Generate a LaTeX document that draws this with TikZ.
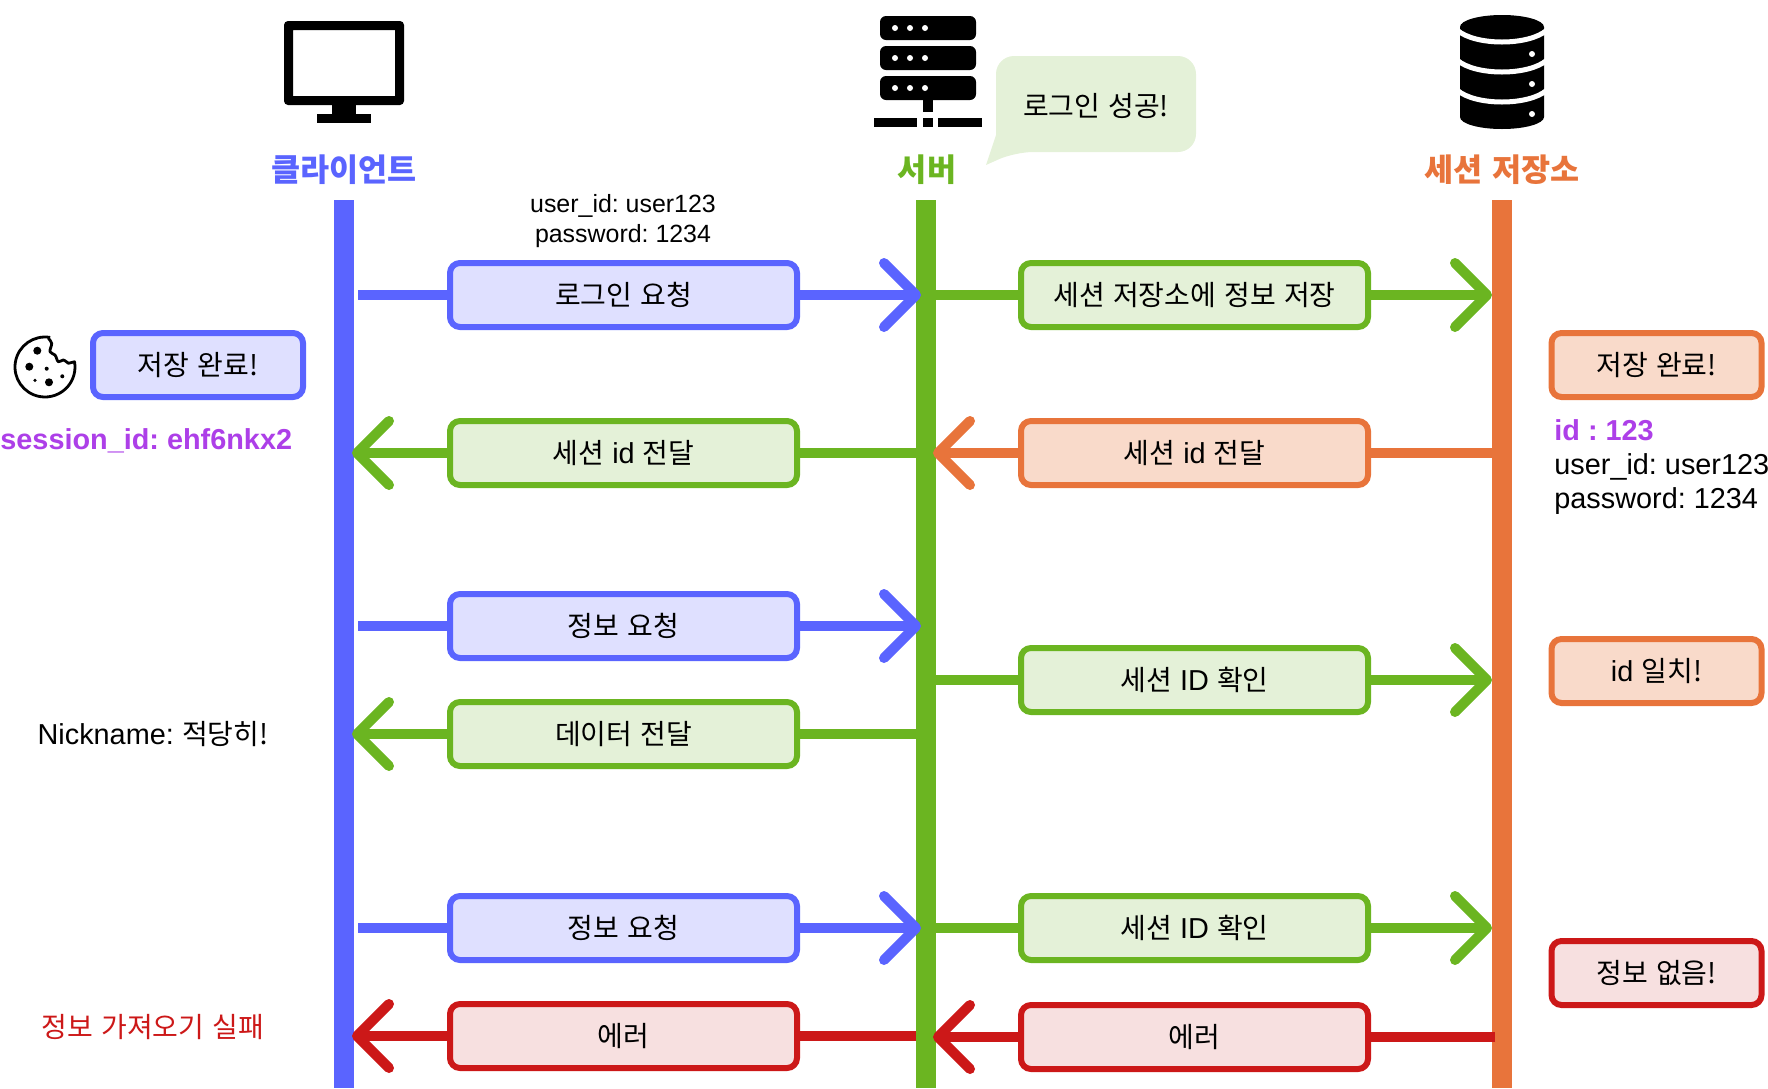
\documentclass[tikz,border=0pt]{standalone}
\usepackage{fontspec}
\setmainfont[WordSpace=1.3]{Noto Sans CJK KR}
\newfontfamily\lat[Scale=1.03]{Liberation Sans}
\usetikzlibrary{arrows.meta}
\definecolor{cblue}{HTML}{5A64FF}
\definecolor{cbluefill}{HTML}{DFE0FF}
\definecolor{sgreen}{HTML}{6BB521}
\definecolor{sgreenfill}{HTML}{E4F1D8}
\definecolor{dorange}{HTML}{E8743B}
\definecolor{dorangefill}{HTML}{F9DACA}
\definecolor{ered}{HTML}{CC1818}
\definecolor{eredfill}{HTML}{F7E0E0}
\definecolor{idpurple}{HTML}{AD3FE8}
\newcommand{\txt}{\fontsize{14}{15}\selectfont\frenchspacing}
\newcommand{\txtsmall}{\fontsize{12.1}{15}\selectfont\frenchspacing}
\newcommand{\txtbig}{\fontsize{14}{17}\selectfont\frenchspacing}
\newcommand{\txthead}{\fontsize{15.8}{17}\selectfont\bfseries}
\tikzstyle{lifeline}=[line width=10pt]
\tikzstyle{msgbox}=[rectangle,rounded corners=5pt,line width=3pt,inner sep=0pt,minimum height=32pt,font=\txt]
\tikzstyle{wideb}=[msgbox,minimum width=173.5pt]
\tikzstyle{noteb}=[msgbox,minimum width=105pt]
\tikzstyle{bluebox}=[draw=cblue,fill=cbluefill]
\tikzstyle{greenbox}=[draw=sgreen,fill=sgreenfill]
\tikzstyle{orangebox}=[draw=dorange,fill=dorangefill]
\tikzstyle{redbox}=[draw=ered,fill=eredfill]
\tikzstyle{wire}=[line width=5pt]
\tikzstyle{tip}=[line width=5pt,-{Straight Barb[length=16pt,width=32pt,round]}]

\begin{document}
\begin{tikzpicture}[x=0.5pt,y=-0.5pt]
	\useasboundingbox (0,0) rectangle (1768,1088);

	% lifelines
	\coordinate(ctop) at (344,200);
	\coordinate(cbot) at (344,1088);
	\coordinate(stop) at (926,200);
	\coordinate(sbot) at (926,1088);
	\coordinate(dtop) at (1502,200);
	\coordinate(dbot) at (1502,1088);
	\draw[lifeline,cblue] (ctop) -- (cbot);
	\draw[lifeline,sgreen] (stop) -- (sbot);
	\draw[lifeline,dorange] (dtop) -- (dbot);

	% headers
	\node(chead)[font=\txthead,text=cblue] at (344,170) {클라이언트};
	\node(shead)[font=\txthead,text=sgreen] at (927,170) {서버};
	\node(dhead)[font=\txthead,text=dorange] at (1502,170) {세션 저장소};

	% monitor
	\fill[even odd rule,rounded corners=2pt] (284,21) rectangle (404,105) [sharp corners] (293,30) rectangle (395,96);
	\fill (332,105) rectangle (356,114);
	\fill (317,114) rectangle (371,123);

	% server
	\foreach \ya in {16,46,76}{
		\fill[rounded corners=3pt] (880,\ya) rectangle (976,\ya+24);
		\foreach \xa in {895,910,925}
			\fill[white] (\xa,\ya+12) circle (1.5pt);
	}
	\fill (923,100) rectangle (933,112);
	\fill (874,118) rectangle (917,127);
	\fill (923,118) rectangle (933,127);
	\fill (938,118) rectangle (982,127);

	% speech bubble
	\fill[sgreenfill] (986,165) -- (996,135) [rounded corners=9pt] -- (996,56) -- (1196,56) -- (1196,152) -- (1015,152) [sharp corners] -- cycle;
	\node(bubble)[font=\txt] at (1096,106) {로그인 성공!};

	% session store
	\fill (1460,27) -- (1544,27) -- (1544,117) arc[x radius=21pt,y radius=6pt,start angle=0,end angle=-180] -- cycle;
	\fill (1502,27) ellipse (21pt and 6pt);
	\foreach \ya in {30,60,90}{
		\draw[white,line width=2.5pt] (1457,\ya) .. controls (1475,\ya+16) and (1529,\ya+16) .. (1547,\ya);
		\fill[white] (1532,\ya+24) circle (1.5pt);
	}

	% cookie
	\draw[line width=1.4pt,line join=round] (45,367) ++(80:15pt) arc[start angle=80,end angle=370,radius=15pt] -- plot[smooth,tension=.6] coordinates {(68.3,363.3) (63.3,360) (58.3,361.7) (55,355) (50,351.7) (51.7,343.3) (48.3,338.3)};
	\fill (37.3,350.7) circle (2pt);
	\fill (29.3,366.7) circle (2pt);
	\fill (46.7,368.7) circle (1pt);
	\fill (35,380.3) circle (.9pt);
	\fill (49,382.3) circle (2pt);
	\fill (62.3,376.3) circle (1pt);

	% free texts
	\node(login)[font=\txtsmall,align=center] at (623,221.5) {\lat user\_id: user123\\\lat password: 1234};
	\node(sessid)[font=\txt\bfseries,text=idpurple,anchor=west,inner sep=0pt] at (0,441) {\lat session\_id: ehf6nkx2};
	\node(stored)[font=\txtbig,align=left,anchor=north west,inner sep=0pt] at (1554,419) {\textcolor{idpurple}{\lat\bfseries id : 123}\\\lat user\_id: user123\\\lat password: 1234};
	\node(nick)[font=\txt] at (153,734) {{\lat Nickname:} 적당히!};
	\node(fail)[font=\txt,text=ered] at (153,1027) {정보 가져오기 실패};

	% status boxes
	\node(cdone)[noteb,bluebox] at (198,365) {저장 완료!};
	\node(ddone)[noteb,orangebox] at (1656.5,365) {저장 완료!};
	\node(dmatch)[noteb,orangebox] at (1656.5,671) {{\lat id} 일치!};
	\node(dnone)[noteb,redbox] at (1656.5,973) {정보 없음!};

	% message boxes
	\node(m1)[wideb,bluebox] at (623.5,295) {로그인 요청};
	\node(m2)[wideb,greenbox] at (1194.5,295) {세션 저장소에 정보 저장};
	\node(m3)[wideb,greenbox] at (623.5,453) {세션 {\lat id} 전달};
	\node(m4)[wideb,orangebox] at (1194.5,453) {세션 {\lat id} 전달};
	\node(m5)[wideb,bluebox] at (623.5,626) {정보 요청};
	\node(m6)[wideb,greenbox] at (1194.5,680) {세션 {\lat ID} 확인};
	\node(m7)[wideb,greenbox] at (623.5,734) {데이터 전달};
	\node(m8)[wideb,bluebox] at (623.5,928) {정보 요청};
	\node(m9)[wideb,greenbox] at (1194.5,928) {세션 {\lat ID} 확인};
	\node(m10)[wideb,redbox] at (623.5,1036) {에러};
	\node(m11)[wideb,redbox] at (1194.5,1037) {에러};

	% wire ends
	\foreach \na/\xa/\ya in {a1/358/295,a2/921/295,a3/936/295,a4/1492/295,
		b1/352/453,b2/916/453,b3/933/453,b4/1492/453,
		c1/358/626,c2/921/626,d1/936/680,d2/1492/680,
		e1/352/734,e2/916/734,
		f1/358/928,f2/921/928,f3/936/928,f4/1492/928,
		g1/352/1036,g2/916/1036,g3/933/1037,g4/1495/1037}
		\coordinate(\na) at (\xa,\ya);

	\path[cblue] (a1) edge[wire] (m1)
		(m1) edge[tip] (a2)
		(c1) edge[wire] (m5)
		(m5) edge[tip] (c2)
		(f1) edge[wire] (m8)
		(m8) edge[tip] (f2);
	\path[sgreen] (a3) edge[wire] (m2)
		(m2) edge[tip] (a4)
		(b2) edge[wire] (m3)
		(m3) edge[tip] (b1)
		(d1) edge[wire] (m6)
		(m6) edge[tip] (d2)
		(e2) edge[wire] (m7)
		(m7) edge[tip] (e1)
		(f3) edge[wire] (m9)
		(m9) edge[tip] (f4);
	\path[dorange] (b4) edge[wire] (m4)
		(m4) edge[tip] (b3);
	\path[ered] (g2) edge[wire] (m10)
		(m10) edge[tip] (g1)
		(g4) edge[wire] (m11)
		(m11) edge[tip] (g3);
\end{tikzpicture}
\end{document}
